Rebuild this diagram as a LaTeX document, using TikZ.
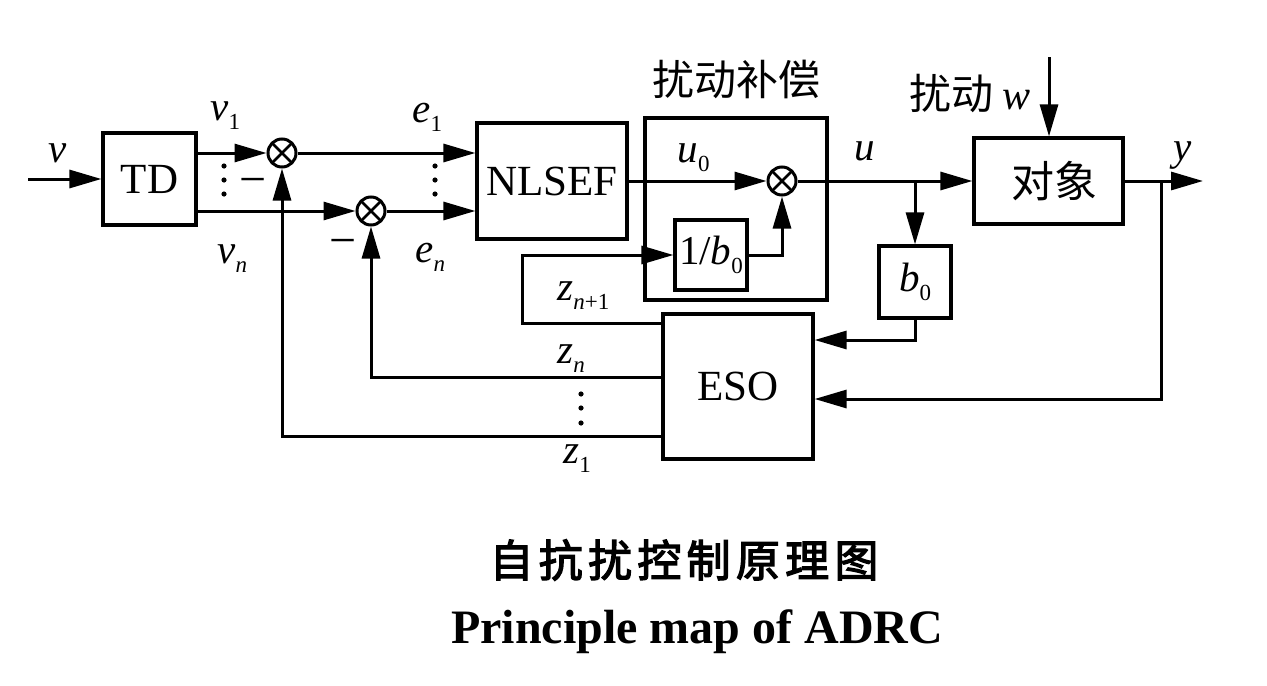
\documentclass[tikz,border=0pt]{standalone}
\usepackage{fontspec}
\setmainfont{Liberation Serif}
\newfontfamily\cjk{Noto Sans CJK SC}
\newfontfamily\cjkt[LetterSpace=12,FakeBold=3]{Noto Sans CJK SC}
\usetikzlibrary{arrows.meta}
\newcommand{\vs}[2]{\textit{#1}\raisebox{-4.5pt}{\fontsize{11.5}{12}\selectfont #2}}
\begin{document}
\begin{tikzpicture}[x=0.5pt,y=-0.5pt, line width=1.5pt,
  blk/.style={draw, line width=1.6pt, inner sep=0pt, font=\fontsize{21.5}{22}\selectfont},
  sumn/.style={draw, circle, minimum size=14pt, inner sep=0pt, line width=1.5pt,
    path picture={\draw[line width=1.4pt] (path picture bounding box.north west) -- (path picture bounding box.south east)
      (path picture bounding box.north east) -- (path picture bounding box.south west);}},
  arr/.style={-{Triangle[length=16pt,width=9pt]}},
  lbl/.style={font=\fontsize{20.5}{21}\selectfont, inner sep=0pt, anchor=base west},
  cjl/.style={font=\fontsize{21}{22}\selectfont\cjk, inner sep=0pt},
  dotf/.style={fill, circle, inner sep=0pt, minimum size=2.6pt},
  minus/.style={font=\fontsize{24}{24}\selectfont, inner sep=0pt}]
\useasboundingbox (0,0) rectangle (1267,685);
\fill[white] (0,0) rectangle (1267,685);
% blocks
\node[blk, minimum width=46.5pt, minimum height=46pt] (td) at (149.5,179) {TD};
\node[blk, minimum width=75pt, minimum height=58pt] (nl) at (552,181) {NLSEF};
\node[blk, minimum width=91pt, minimum height=91pt] (comp) at (736,209) {};
\node[blk, minimum width=36pt, minimum height=35pt, font=\fontsize{20.5}{21}\selectfont] (ib) at (711,255) {1/\vs{b}{0}};
\node[blk, minimum width=36pt, minimum height=36pt, font=\fontsize{20.5}{21}\selectfont] (b0) at (915,282) {\vs{b}{0}};
\node[blk, minimum width=74.5pt, minimum height=43pt, font=\fontsize{21.5}{22}\selectfont\cjk] (pl) at (1048.5,181) {\hspace{6pt}对象};
\node[blk, minimum width=75pt, minimum height=72.5pt] (eso) at (738,386.5) {ESO};
% summing junctions
\node[sumn] (s1) at (282,153) {};
\node[sumn] (s2) at (371,211) {};
\node[sumn] (s3) at (782,181) {};
% helper coordinates
\coordinate (vin) at (28,179);
\coordinate (bu) at (915,181);
\coordinate (yb) at (1161,181);
\coordinate (yout) at (1203,181);
\coordinate (wtop) at (1049,57);
\coordinate (k1) at (0,340);
\coordinate (k2) at (0,399);
\coordinate (k3) at (0,323);
\coordinate (k4) at (0,377);
\coordinate (k5) at (0,436);
\coordinate (lp) at (522,0);
% connectors
\draw[arr] (vin) -- (td.west);
\draw[arr] (td.east |- s1) -- (s1);
\draw[arr] (td.east |- s2) -- (s2);
\draw[arr] (s1) -- (nl.west |- s1);
\draw[arr] (s2) -- (nl.west |- s2);
\draw[arr] (nl.east) -- (s3);
\draw[arr] (s3) -- (pl.west);
\draw[arr] (bu) -- (b0.north);
\draw[arr] (b0.south) -- (b0.south |- k1) -- (eso.east |- k1);
\draw[arr] (pl.east) -- (yout);
\draw[arr] (yb) -- (yb |- k2) -- (eso.east |- k2);
\draw[arr] (wtop) -- (wtop |- pl.north);
\draw[arr] (eso.west |- k3) -- (lp |- k3) -- (lp |- ib) -- (ib.west);
\draw[arr] (ib.east) -| (s3.south);
\draw[arr] (eso.west |- k4) -| (s2.south);
\draw[arr] (eso.west |- k5) -| (s1.south);
% dots
\foreach \y in {166,180,194} \node[dotf] at (224,\y) {};
\foreach \y in {166,180,194} \node[dotf] at (435,\y) {};
\foreach \y in {394,408,423} \node[dotf] at (581,\y) {};
% minus signs
\node[minus] (m1) at (253,187) {−};
\node[minus] (m2) at (343,248) {−};
% variable labels
\node[lbl] (lv) at (47,162) {\textit{v}};
\node[lbl] (lv1) at (209,120) {\vs{v}{1}};
\node[lbl] (lvn) at (216,263) {\vs{v}{\textit{n}}};
\node[lbl] (le1) at (411,122) {\vs{e}{1}};
\node[lbl] (len) at (414,262) {\vs{e}{\textit{n}}};
\node[lbl] (lu0) at (676,162) {\vs{u}{0}};
\node[lbl] (lu) at (853,160) {\textit{u}};
\node[lbl] (ly) at (1172,160) {\textit{y}};
\node[lbl] (lzn1) at (556,300) {\vs{z}{\textit{n}+1}};
\node[lbl] (lzn) at (556,363) {\vs{z}{\textit{n}}};
\node[lbl] (lz1) at (562,463) {\vs{z}{1}};
% chinese labels
\node[cjl] (lcomp) at (736,79) {扰动补偿};
\node[cjl] (lw) at (970,94) {扰动 {\fontspec{Liberation Serif}\textit{w}}};
% titles
\node[inner sep=0pt, font=\fontsize{22}{22}\selectfont\cjkt] (t1) at (684,560) {自抗扰控制原理图};
\node[inner sep=0pt, anchor=base, font=\fontsize{24}{24}\selectfont\bfseries] (t2) at (697,643) {Principle map of ADRC};
\end{tikzpicture}
\end{document}
